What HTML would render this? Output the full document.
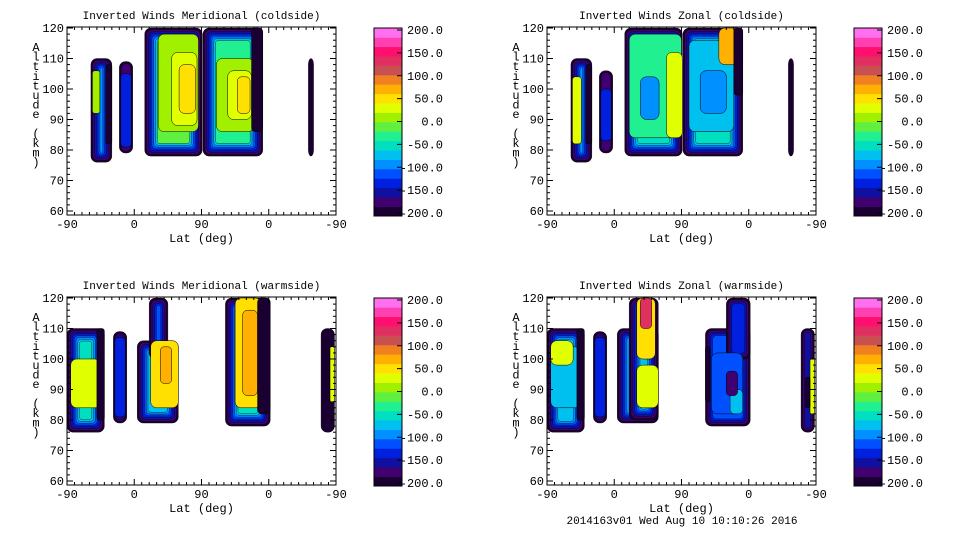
<!DOCTYPE html>
<html><head><meta charset="utf-8"><style>
body{margin:0;background:#fff;}
svg{display:block;font-family:"Liberation Mono",monospace;}
</style></head><body>
<svg id="chart" width="960" height="540" viewBox="0 0 960 540"></svg>
<script>
const colors=["#1a0030","#400070","#1010a0","#0020e0","#0050ff","#0090ff","#00c0f0","#00e0c0","#20f090","#60f040","#a0f000","#e0ff00","#ffe000","#ffb000","#f08020","#c85050","#e03060","#ff1070","#ff40b0","#ff70f0"];
const cbarLabels=["200.0","150.0","100.0","50.0","0.0","-50.0","-100.0","-150.0","-200.0"];
const altTicks=[60,70,80,90,100,110,120];
const latTickLabels=["-90","0","90","0","-90"];
const titles=["Inverted Winds Meridional (coldside)","Inverted Winds Zonal (coldside)","Inverted Winds Meridional (warmside)","Inverted Winds Zonal (warmside)"];
// regions: [u0,u1,alt0,alt1,value]; u = path coordinate 0..360 along lat axis
const regions0=[[32,60,76,110,-70],[70,88,79,109,-170],[104,181,78,120,-20],[182,262,78,120,-40],[323,330,78,110,-200]];
const patches0=[[34,44,92,106,10],[52,60,82,108,-200],[72,86,81,105,-140],[122,176,86,118,0],[140,174,88,112,20],[150,172,92,108,40],[200,250,86,110,0],[215,247,90,106,30],[228,245,92,104,50],[247,262,86,120,-200]];
const regions1=[[32,60,76,110,-60],[70,88,79,106,-170],[104,181,78,120,-50],[182,262,78,120,-60],[323,330,78,110,-200]];
const patches1=[[34,46,82,104,20],[52,60,82,108,-200],[72,86,83,100,-140],[110,180,84,118,-40],[125,150,90,104,-90],[160,181,84,112,20],[190,250,86,116,-70],[205,240,92,106,-90],[230,262,108,120,60],[250,262,98,120,-200]];
const regions2=[[0,50,76,110,-60],[62,80,79,109,-160],[94,149,79,106,-80],[110,135,100,120,-100],[212,272,78,120,-60],[340,358,76,110,-190]];
const patches2=[[5,45,84,100,20],[40,50,80,110,-200],[64,78,81,107,-140],[112,149,84,106,40],[125,140,92,104,60],[225,260,84,120,40],[235,255,88,116,60],[255,272,82,120,-200],[352,358,86,104,20]];
const regions3=[[0,50,76,110,-80],[62,80,79,109,-160],[94,149,79,110,-90],[110,149,80,120,-70],[212,272,78,110,-120],[240,272,100,120,-130],[340,358,76,110,-160]];
const patches3=[[5,45,84,104,-80],[5,35,98,106,20],[40,50,80,110,-200],[64,78,81,107,-140],[120,149,84,98,20],[120,145,100,120,40],[125,140,110,120,120],[220,262,82,102,-110],[245,262,82,90,-80],[240,255,88,96,-170],[212,218,86,104,-200],[352,358,82,100,20],[346,352,84,94,-200]];
const panelRegions=[regions0,regions1,regions2,regions3];
const panelPatches=[patches0,patches1,patches2,patches3];

const NS="http://www.w3.org/2000/svg";
const svg=document.getElementById('chart');
function mk(tag,attrs,parent){const e=document.createElementNS(NS,tag);for(const k in attrs)e.setAttribute(k,attrs[k]);(parent||svg).appendChild(e);return e;}
function colorOf(v){let i=Math.floor((v+200)/20);i=Math.max(0,Math.min(19,i));return colors[i];}

const offs=[[0,0],[480,0],[0,270],[480,270]];
offs.forEach((o,p)=>{
  const ox=o[0],oy=o[1];
  const X0=67+ox,X1=336+ox,Ytop=27+oy,Ybot=215+oy;
  const xs=u=>X0+u*(X1-X0)/360;
  const ys=a=>28+oy+(120-a)*3.05;
  const g=mk('g',{});
  
  
  const clip=mk('clipPath',{id:'c'+p},g);
  mk('rect',{x:X0,y:Ytop,width:X1-X0,height:Ybot-Ytop},clip);
  const field=mk('g',{'clip-path':'url(#c'+p+')'},g);
  
  
  panelRegions[p].forEach(r=>{
    const x=xs(r[0]),w=xs(r[1])-x,y=ys(r[3]),h=ys(r[2])-y;
    const levels=[];
    for(let v=-190;v<r[4]&&levels.length<7;v+=20)levels.push(v);
    levels.push(r[4]);
    levels.forEach((v,k)=>{
      const d=k*1.8;
      if(w-2*d>1.5&&h-2*d>1.5){
        const e=mk('rect',{x:x+d,y:y+d,width:w-2*d,height:h-2*d,rx:Math.max(1,6-k*0.5),fill:colorOf(v),stroke:'#000','stroke-width':0.35},field);
        
        
      }
    });
  });
  panelPatches[p].forEach(r=>{
    const x=xs(r[0]),w=xs(r[1])-x,y=ys(r[3]),h=ys(r[2])-y;
    const e=mk('rect',{x:x,y:y,width:w,height:h,rx:Math.min(6,w/3),fill:colorOf(r[4]),stroke:'#000','stroke-width':0.5},field);
    
    
  });
  const box=mk('rect',{x:X0,y:Ytop,width:X1-X0,height:Ybot-Ytop,fill:'none',stroke:'#000','stroke-width':1},g);
  
  
  for(let a=60;a<=120;a+=2){
    const L=(a%10===0)?6:3,y=ys(a);
    mk('line',{x1:X0,x2:X0+L,y1:y,y2:y,stroke:'#000'},g);
    mk('line',{x1:X1,x2:X1-L,y1:y,y2:y,stroke:'#000'},g);
  }
  for(let u=0;u<=360;u+=10){
    const L=(u%90===0)?6:3,x=xs(u);
    mk('line',{x1:x,x2:x,y1:Ybot,y2:Ybot-L,stroke:'#000'},g);
    mk('line',{x1:x,x2:x,y1:Ytop,y2:Ytop+L,stroke:'#000'},g);
  }
  altTicks.forEach(a=>{
    const t=mk('text',{x:X0-3,y:ys(a)+4,'text-anchor':'end','font-size':12},g);
    t.textContent=a;
    
    
  });
  latTickLabels.forEach((l,i)=>{
    const t=mk('text',{x:xs(i*90),y:Ybot+13,'text-anchor':'middle','font-size':12},g);
    t.textContent=l;
    
    
  });
  const tt=mk('text',{x:(X0+X1)/2,y:19+oy,'text-anchor':'middle','font-size':11},g);
  tt.textContent=titles[p];
  
  
  const xt=mk('text',{x:(X0+X1)/2,y:242+oy,'text-anchor':'middle','font-size':12},g);
  xt.textContent='Lat (deg)';
  
  
  const yt=mk('text',{x:36+ox,y:51+oy,'text-anchor':'middle','font-size':12},g);
  
  
  'Altitude (km)'.split('').forEach((c,i)=>{const s=mk('tspan',{x:36+ox,y:51+oy+i*9.6},yt);s.textContent=c===' '?'\u00a0':c;});
  const cb=mk('g',{},g);
  
  
  const cx=374+ox,cw=28,cy0=28+oy,ch=188;
  colors.forEach((c,i)=>{
    const bh=ch/colors.length;
    mk('rect',{x:cx,y:cy0+ch-(i+1)*bh,width:cw,height:bh+0.3,fill:c},cb);
  });
  mk('rect',{x:cx,y:cy0,width:cw,height:ch,fill:'none',stroke:'#000'},cb);
  cbarLabels.forEach((l,i)=>{
    const y=cy0+2+i*(ch-5)/8;
    mk('line',{x1:cx+cw-5,x2:cx+cw,y1:y,y2:y,stroke:'#000'},cb);
    const t=mk('text',{x:443+ox,y:y+4,'text-anchor':'end','font-size':12},cb);
    t.textContent=l;
    
    
  });
});
const ft=mk('text',{x:682,y:524,'text-anchor':'middle','font-size':11});
ft.textContent='2014163v01 Wed Aug 10 10:10:26 2016';


</script>
</body></html>
